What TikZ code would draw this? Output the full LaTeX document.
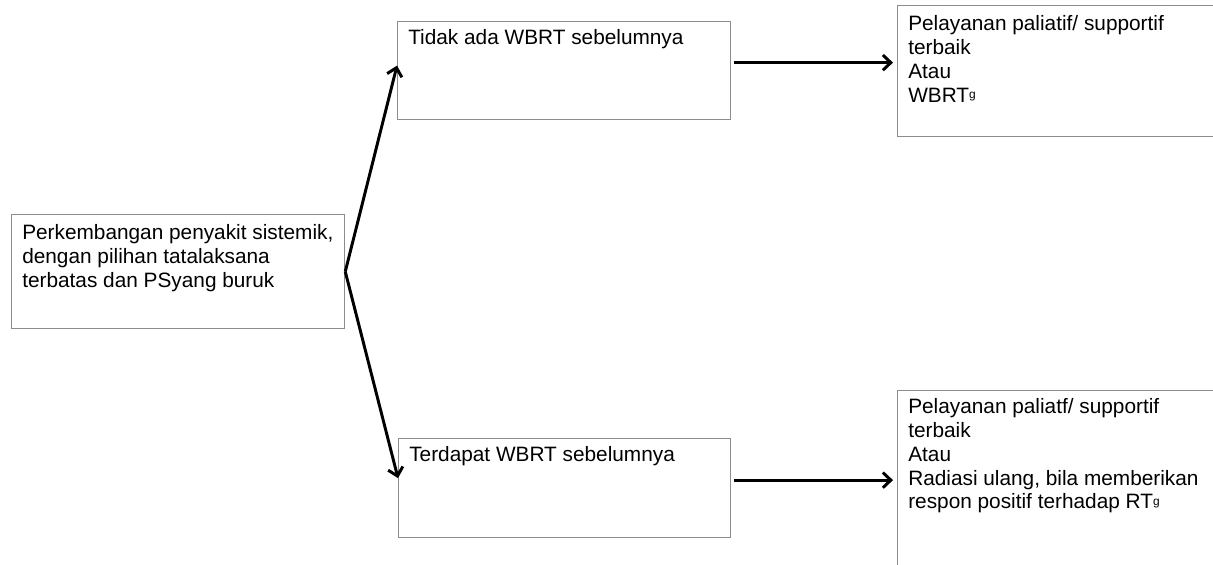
\documentclass[tikz,border=0pt]{standalone}
\usepackage{fontspec}
\setmainfont{Liberation Sans}
\usetikzlibrary{arrows.meta}
\newcommand{\supg}{\raisebox{0.35ex}{\fontsize{8.5}{9}\selectfont g}}
\begin{document}
\begin{tikzpicture}
\tikzstyle{box}=[draw=gray!90,line width=0.9pt,rectangle,anchor=north west,inner sep=0pt]
\tikzstyle{txt}=[anchor=north west,align=left,inner sep=0pt,font=\fontsize{14.8}{17}\selectfont]
\tikzstyle{arr}=[line width=2.1pt,-{Straight Barb[length=2mm,width=3.8mm]}]
\path[use as bounding box] (0,0) rectangle (30.325,-14.125);
\clip (0,0) rectangle (30.325,-14.125);
\node[box,minimum width=8.325cm,minimum height=2.85cm](sys) at (0.275,-5.35) {};
\node[txt](tsys) at (0.55,-5.6) {Perkembangan penyakit sistemik,\\dengan pilihan tatalaksana\\terbatas dan PSyang buruk};
\node[box,minimum width=8.325cm,minimum height=2.45cm](none) at (9.925,-0.525) {};
\node[txt](tnone) at (10.2,-0.725) {Tidak ada WBRT sebelumnya};
\node[box,minimum width=8.3cm,minimum height=2.475cm](prev) at (9.95,-10.95) {};
\node[txt](tprev) at (10.225,-11.15) {Terdapat WBRT sebelumnya};
\node[box,minimum width=8.5cm,minimum height=3.275cm](best1) at (22.425,-0.125) {};
\node[txt](tbest1) at (22.7,-0.375) {Pelayanan paliatif/ supportif\\terbaik\\Atau\\WBRT\supg};
\node[box,minimum width=8.5cm,minimum height=5cm](best2) at (22.425,-9.75) {};
\node[txt](tbest2) at (22.7,-9.95) {Pelayanan paliatf/ supportif\\terbaik\\Atau\\Radiasi ulang, bila memberikan\\respon positif terhadap RT\supg};
\draw[arr] (sys.east) -- ([yshift=0.125cm]none.west);
\draw[arr] (sys.east) -- ([yshift=0.25cm]prev.west);
\draw[arr,shorten <=0.075cm,shorten >=0.1cm] ([yshift=0.2cm]none.east) -- ([yshift=0.2cm]none.east -| best1.west);
\draw[arr,shorten <=0.075cm,shorten >=0.1cm] ([yshift=0.2cm]prev.east) -- ([yshift=0.2cm]prev.east -| best2.west);
\end{tikzpicture}
\end{document}
